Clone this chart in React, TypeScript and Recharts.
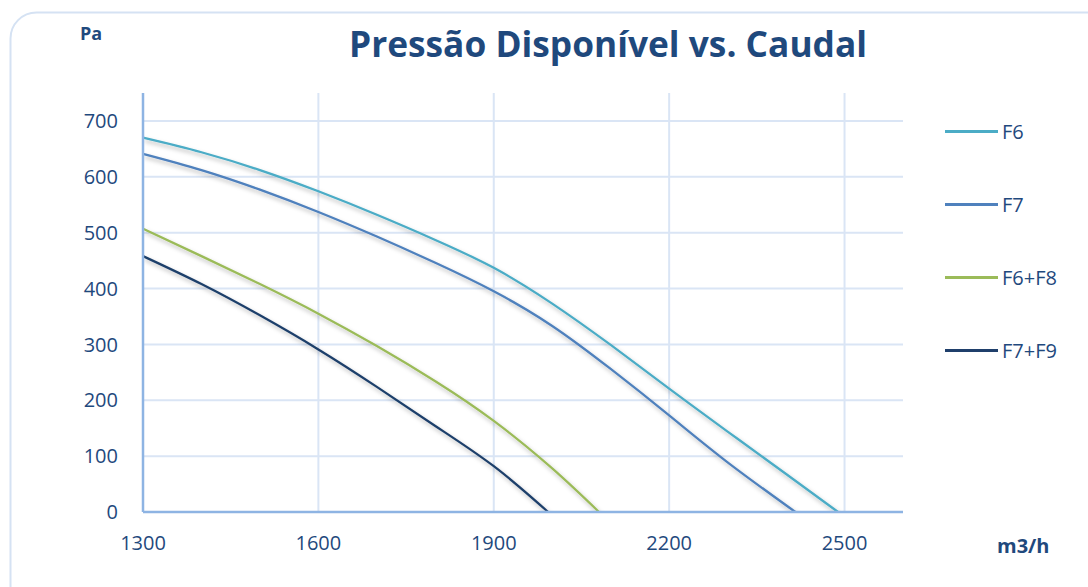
import React from 'react';
import { LineChart, Line, XAxis, YAxis, CartesianGrid } from 'recharts';

const xTicks = [1300, 1600, 1900, 2200, 2500];
const yTicks = [0, 100, 200, 300, 400, 500, 600, 700];

const f6Flow = [1300, 1400, 1500, 1600, 1700, 1800, 1900, 2000, 2100, 2200, 2300, 2400, 2489];
const f6Pa = [670, 644, 612, 574, 532, 487, 437, 373, 299, 221, 144, 68, 0];

const f7Flow = [1300, 1400, 1500, 1600, 1700, 1800, 1900, 2000, 2100, 2200, 2300, 2416];
const f7Pa = [641, 612, 577, 537, 493, 446, 395, 333, 256, 173, 89, 0];

const f6f8Flow = [1300, 1400, 1500, 1600, 1700, 1800, 1900, 2000, 2080];
const f6f8Pa = [507, 458, 408, 355, 297, 234, 163, 78, 0];

const f7f9Flow = [1300, 1400, 1500, 1600, 1700, 1800, 1900, 1993];
const f7f9Pa = [458, 408, 352, 291, 224, 154, 82, 0];

const seriesNames = ['F6', 'F7', 'F6+F8', 'F7+F9'];
const seriesColors = ['#4BACC6', '#4F81BD', '#9BBB59', '#1F3F6B'];

const toPoints = (xs: number[], ys: number[]) => xs.map((x, i) => ({ x, y: ys[i] }));

const seriesData = [
  toPoints(f6Flow, f6Pa),
  toPoints(f7Flow, f7Pa),
  toPoints(f6f8Flow, f6f8Pa),
  toPoints(f7f9Flow, f7f9Pa),
];

const TEXT = '#1F497D';
const FONT = '"Open Sans", sans-serif';

export default function App() {
  return (
    <div style={{ position: 'absolute', left: 0, top: 0, width: 1088, height: 587, background: '#fff', overflow: 'hidden', fontFamily: FONT }}>
      <svg width={1088} height={587} style={{ position: 'absolute', left: 0, top: 0 }}>
        <defs>
          <filter id="lineShadow" x="-10%" y="-10%" width="120%" height="130%">
            <feDropShadow dx="2" dy="3" stdDeviation="2" floodColor="#000" floodOpacity="0.28" />
          </filter>
        </defs>
        <rect x={10.5} y={12.5} width={1120} height={620} rx={26} ry={26} fill="#fff" stroke="#D5E2F3" strokeWidth={2} />
        <text x={608} y={57} textAnchor="middle" fontFamily={FONT} fontWeight={700} fontSize={35} fill={TEXT} textLength={518} lengthAdjust="spacingAndGlyphs">
          Pressão Disponível vs. Caudal
        </text>
        <text x={80} y={40} fontFamily={FONT} fontWeight={700} fontSize={18} fill={TEXT}>Pa</text>
        <text x={997} y={553} fontFamily={FONT} fontWeight={700} fontSize={20} fill={TEXT}>m3/h</text>
      </svg>
      <div style={{ position: 'absolute', left: 0, top: 0 }}>
        <LineChart width={1088} height={587} margin={{ top: 93, right: 185, bottom: 0, left: 83 }}>
          <CartesianGrid stroke="#DAE5F5" strokeWidth={2} horizontalValues={yTicks} verticalValues={xTicks} />
          <XAxis
            type="number"
            dataKey="x"
            domain={[1300, 2600]}
            ticks={xTicks}
            allowDataOverflow
            height={75}
            axisLine={{ stroke: '#8EB4E3', strokeWidth: 2.5 }}
            tickLine={false}
            tickSize={0}
            tickMargin={24}
            tick={{ fill: TEXT, fontSize: 20, fontFamily: FONT }}
          />
          <YAxis
            type="number"
            dataKey="y"
            domain={[0, 750]}
            ticks={yTicks}
            allowDataOverflow
            width={60}
            axisLine={{ stroke: '#8EB4E3', strokeWidth: 2.5 }}
            tickLine={false}
            tickSize={0}
            tickMargin={25}
            tick={{ fill: TEXT, fontSize: 20, fontFamily: FONT }}
          />
          {seriesData.map((d, i) => (
            <Line
              key={seriesNames[i]}
              data={d}
              dataKey="y"
              name={seriesNames[i]}
              type="natural"
              stroke={seriesColors[i]}
              strokeWidth={2.25}
              dot={false}
              activeDot={false}
              isAnimationActive={false}
              style={{ filter: 'url(#lineShadow)' }}
            />
          ))}
        </LineChart>
      </div>
      <div style={{ position: 'absolute', left: 0, top: 0 }}>
        {seriesNames.map((name, i) => (
          <div key={name} style={{ position: 'absolute', left: 945, top: 131.5 + i * 73 - 14, height: 28, display: 'flex', alignItems: 'center', whiteSpace: 'nowrap' }}>
            <div style={{ width: 53, height: 2.5, background: seriesColors[i] }} />
            <span style={{ marginLeft: 4, color: TEXT, fontSize: 20, fontFamily: FONT, lineHeight: '28px' }}>{name}</span>
          </div>
        ))}
      </div>
    </div>
  );
}
